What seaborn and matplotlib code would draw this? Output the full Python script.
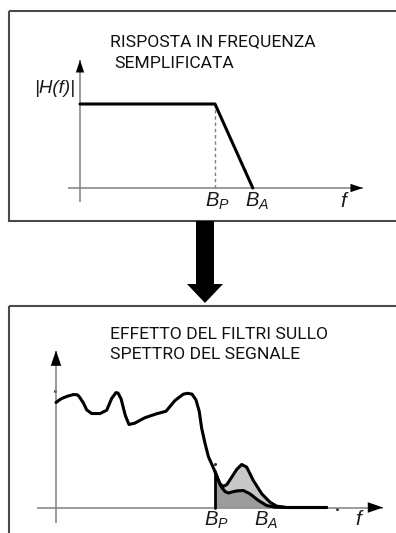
import numpy as np
import matplotlib
matplotlib.use("Agg")
import matplotlib.pyplot as plt
from matplotlib.patches import Rectangle
import seaborn as sns

sns.set_style("white")
plt.rcParams["font.family"] = ["Roboto", "DejaVu Sans"]
plt.rcParams["mathtext.fontset"] = "custom"
plt.rcParams["mathtext.it"] = "Liberation Sans:italic"
plt.rcParams["mathtext.rm"] = "Liberation Sans"

# ---- data -------------------------------------------------------------
# frequencies are expressed in units of the pass-band edge B_P
B_P = 1.0
B_A_TOP = 1.28
B_A_BOT = 1.33

# simplified low-pass response |H(f)|
h_freq = [0.0, B_P, B_A_TOP]
h_gain = [1.0, 1.0, 0.0]

# spectrum of the input signal
sig_freq = [0.0, 0.025, 0.046, 0.075, 0.109, 0.135, 0.147, 0.172, 0.193,
            0.224, 0.277, 0.319, 0.350, 0.377, 0.390, 0.409, 0.436, 0.459,
            0.495, 0.558, 0.633, 0.692, 0.748, 0.800, 0.826, 0.855, 0.880,
            0.901, 0.916, 0.937, 0.958, 0.989, 1.0, 1.014, 1.031, 1.052,
            1.075, 1.105, 1.137, 1.168, 1.199, 1.241, 1.294, 1.346, 1.388,
            1.451, 1.702]
sig_amp = [0.913, 0.939, 0.954, 0.969, 0.982, 0.980, 0.962, 0.910, 0.849,
           0.817, 0.817, 0.846, 0.948, 0.999, 0.995, 0.946, 0.800, 0.722,
           0.733, 0.780, 0.815, 0.837, 0.930, 0.985, 0.993, 0.986, 0.937,
           0.835, 0.690, 0.560, 0.444, 0.347, 0.313, 0.264, 0.207, 0.183,
           0.200, 0.264, 0.332, 0.374, 0.352, 0.235, 0.119, 0.046, 0.012,
           0.0, 0.0]

# spectrum at the filter output (beyond B_P)
out_freq = [1.0, 1.019, 1.038, 1.063, 1.084, 1.107, 1.136, 1.178, 1.220,
            1.273, 1.325, 1.377, 1.451, 1.702]
out_amp = [0.313, 0.243, 0.183, 0.139, 0.126, 0.135, 0.144, 0.148, 0.119,
           0.061, 0.017, 0.003, 0.0, 0.0]

# stray marks on the spectrum axes
dot_freq = [-0.006, 1.0, 1.767]
dot_amp = [1.009, 0.374, -0.009]

W, H = 396, 533
fig = plt.figure(figsize=(W / 100, H / 100), dpi=100)

# background layer in pixel units: frames and the connecting arrow
bg = fig.add_axes([0, 0, 1, 1])
bg.set_xlim(0, W)
bg.set_ylim(H, 0)
bg.axis("off")
frame_kw = dict(fill=False, ec="#4a4a4a", lw=1.5)
bg.add_patch(Rectangle((9, 11), 420, 210, **frame_kw))
bg.add_patch(Rectangle((9, 306), 420, 260, **frame_kw))
bg.arrow(205, 221, 0, 82, width=18, head_width=36, head_length=19,
         length_includes_head=True, color="black", lw=0)

title_kw = dict(fontsize=12.6, color="#111111", ha="left", va="center")
bg.text(110, 41.5, "RISPOSTA IN FREQUENZA", **title_kw)
bg.text(114, 63.5, "SEMPLIFICATA", **title_kw)
bg.text(110, 334.5, "EFFETTO DEL FILTRI SULLO", **title_kw)
bg.text(110, 354.5, "SPETTRO DEL SEGNALE", **title_kw)


def panel(box, origin, scale):
    """Axes over a pixel box whose data origin/scale are given in pixels."""
    L, T, R, B = box
    x0, y0 = origin
    sx, sy = scale
    ax = fig.add_axes([L / W, 1 - B / H, (R - L) / W, (B - T) / H])
    ax.set_xlim((L - x0) / sx, (R - x0) / sx)
    ax.set_ylim((y0 - B) / sy, (y0 - T) / sy)
    ax.axis("off")
    ax.patch.set_alpha(0)
    return ax


def arrow_axes(ax, xspan, yspan, head_len, head_w):
    axis_kw = dict(color="#808080", lw=1.1, solid_capstyle="butt")
    ax.plot(xspan, [0, 0], **axis_kw)
    ax.plot([0, 0], yspan, **axis_kw)
    style = f"-|>,head_length={head_len},head_width={head_w}"
    for tip, tail in [((xspan[1], 0), (xspan[1] - 0.05, 0)),
                      ((0, yspan[1]), (0, yspan[1] - 0.05))]:
        ax.annotate("", xy=tip, xytext=tail,
                    arrowprops=dict(arrowstyle=style, color="black", lw=0,
                                    shrinkA=0, shrinkB=0))


lab_kw = dict(fontsize=14.5, color="#1a1a1a", va="baseline")
f_kw = dict(ha="center", va="baseline", fontfamily="Liberation Sans",
            fontstyle="italic", fontsize=15, color="#1a1a1a")

# ---- top: simplified frequency response -------------------------------
ax1 = panel((20, 30, 390, 216), (80, 188), (135, 84))
arrow_axes(ax1, [-0.089, 2.096], [-0.167, 1.524], 0.9, 0.3)
ax1.plot([B_P, B_P], [0, 1], color="#808080", lw=1.0, ls=(0, (2.5, 2)))
sns.lineplot(x=h_freq, y=h_gain, ax=ax1, color="black", lw=2.2,
             sort=False, estimator=None)
ax1.text(B_P + 0.02, -0.226, r"$B_P$", ha="center", **lab_kw)
ax1.text(B_A_TOP + 0.03, -0.226, r"$B_A$", ha="center", **lab_kw)
ax1.text(1.95, -0.226, "f", **f_kw)
ax1.text(-0.185, 1.18, "|H(f)|", ha="center", va="center",
         fontfamily="Liberation Sans", fontstyle="italic", fontsize=13.5,
         color="#1a1a1a")

# ---- bottom: effect of the filter on the signal spectrum --------------
ax2 = panel((20, 340, 390, 533), (56, 507.5), (159, 115))
arrow_axes(ax2, [-0.119, 2.057], [-0.135, 1.365], 1.1, 0.38)

sig_freq_a = np.array(sig_freq)
sig_amp_a = np.array(sig_amp)
beyond = sig_freq_a >= B_P
# attenuated part: between input and output spectra
ax2.fill(np.r_[sig_freq_a[beyond], out_freq[::-1]],
         np.r_[sig_amp_a[beyond], out_amp[::-1]],
         color="#c8c8c8", lw=0)
# transmitted part: under the output spectrum
ax2.fill(np.r_[out_freq, out_freq[-1], B_P],
         np.r_[out_amp, 0.0, 0.0], color="#9c9c9c", lw=0)
ax2.plot([B_P, B_P], [0, out_amp[0]], color="black", lw=2.0)

sns.lineplot(x=sig_freq, y=sig_amp, ax=ax2, color="black", lw=2.2,
             sort=False, estimator=None)
sns.lineplot(x=out_freq, y=out_amp, ax=ax2, color="black", lw=2.2,
             sort=False, estimator=None)
sns.scatterplot(x=dot_freq, y=dot_amp, ax=ax2, color="#333333", s=5,
                linewidth=0)

ax2.text(B_P + 0.01, -0.155, r"$B_P$", ha="center", **lab_kw)
ax2.text(B_A_BOT - 0.01, -0.155, r"$B_A$", ha="center", **lab_kw)
ax2.text(1.9, -0.155, "f", **f_kw)

fig.savefig("out.png", dpi=100)
